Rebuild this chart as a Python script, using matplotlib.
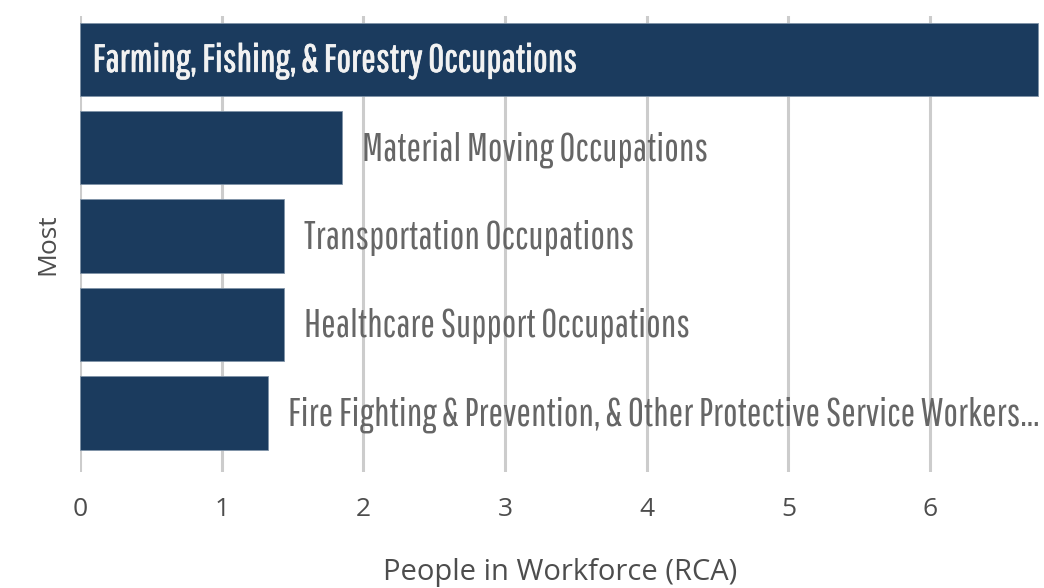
import matplotlib.pyplot as plt
import matplotlib.patheffects as pe
from matplotlib import font_manager

# occupations ranked by RCA, most specialised first
occupations = [
    'Farming, Fishing, & Forestry Occupations',
    'Material Moving Occupations',
    'Transportation Occupations',
    'Healthcare Support Occupations',
    'Fire Fighting & Prevention, & Other Protective Service Workers...',
]
rca = [6.76, 1.85, 1.44, 1.44, 1.33]
xticks = [0, 1, 2, 3, 4, 5, 6]

bar_color = '#1b3b5e'
label_gray = '#666666'
axis_gray = '#4d4d4d'

installed = {f.name for f in font_manager.fontManager.ttflist}


def pick(*families):
    for fam in families:
        if fam in installed:
            return fam
    return 'DejaVu Sans'


narrow = pick('Pathway Gothic One', 'Oswald', 'Barlow Condensed', 'Archivo Narrow')
body = pick('Open Sans', 'Noto Sans')

fig = plt.figure(figsize=(10.44, 5.88), dpi=100)
ax = fig.add_axes([0.0766, 0.197, 0.9195, 0.776])

ypos = list(range(len(occupations)))
ax.barh(ypos, rca, height=0.83, color=bar_color,
        edgecolor='#7f93a8', linewidth=0.6, zorder=2)

# first bar carries its label inside, the rest sit just past the bar end
for i, (name, val) in enumerate(zip(occupations, rca)):
    if i == 0:
        ax.text(0.09, i + 0.02, name, color='#f2f2f2', fontsize=28, family=narrow,
                va='center', ha='left', zorder=3,
                path_effects=[pe.withStroke(linewidth=0.6, foreground='#f2f2f2')])
    else:
        ax.text(val + 0.14, i + 0.02, name, color=label_gray, fontsize=28,
                family=narrow, va='center', ha='left', zorder=3)

ax.set_xlim(0, 6.775)
ax.set_ylim(4.67, -0.49)
ax.set_xticks(xticks)
ax.set_xticklabels([str(t) for t in xticks], family=body, fontsize=19,
                   color=axis_gray)
ax.set_yticks([])
ax.tick_params(axis='x', length=0, pad=18)

ax.grid(axis='x', color='#cccccc', linewidth=2.2, zorder=0)
ax.set_axisbelow(True)
for s in ax.spines.values():
    s.set_visible(False)

ax.set_ylabel('Most', family=body, fontsize=19, color=axis_gray, labelpad=14)
ax.set_xlabel('People in Workforce (RCA)', family=body, fontsize=21,
              color=axis_gray, labelpad=26)

fig.savefig('out.png', dpi=100, facecolor='white')
